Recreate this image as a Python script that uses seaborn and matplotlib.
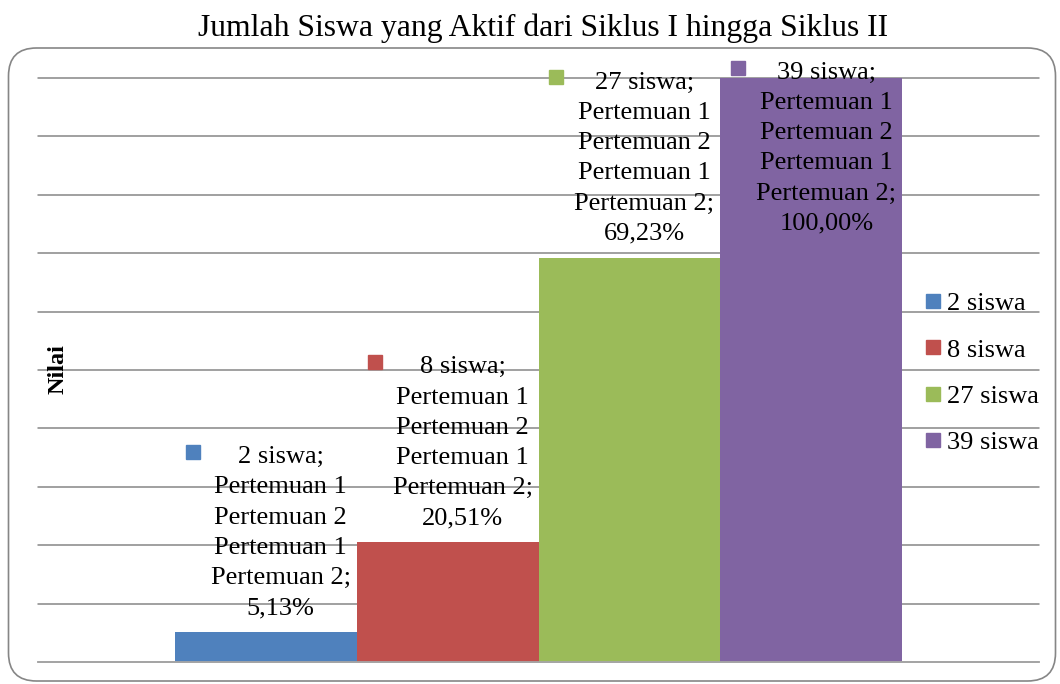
import numpy as np
import pandas as pd
import matplotlib
matplotlib.use("Agg")
import matplotlib.pyplot as plt
from matplotlib.patches import FancyBboxPatch, Rectangle
from matplotlib.lines import Line2D
from matplotlib.transforms import IdentityTransform
import seaborn as sns

# data dari grafik
judul = "Jumlah Siswa yang Aktif dari Siklus I hingga Siklus II"
kategori = ["Siklus"]
seri = ["2 siswa", "8 siswa", "27 siswa", "39 siswa"]
jumlah_siswa = [2, 8, 27, 39]
persen = [5.13, 20.51, 69.23, 100.00]
keterangan = ["Pertemuan 1", "Pertemuan 2", "Pertemuan 1", "Pertemuan 2;"]
label_y = "Nilai"
warna = ["#4F81BD", "#C0504D", "#9BBB59", "#8064A2"]

W, H = 1060, 684
GRID = "#868686"

sns.set_theme(style="white")
plt.rcParams["font.family"] = ["Liberation Serif", "DejaVu Serif"]
plt.rcParams["text.color"] = "black"

df = pd.DataFrame({
    "kategori": kategori * len(seri),
    "seri": seri,
    "persen": persen,
})

fig = plt.figure(figsize=(W / 100, H / 100), dpi=100)
ax = fig.add_axes([38 / W, (H - 662) / H, 1001 / W, (662 - 78) / H])

sns.barplot(data=df, x="kategori", y="persen", hue="seri", hue_order=seri,
            palette=warna, saturation=1, width=0.727, gap=0, dodge=True,
            legend=False, linewidth=0, ax=ax)

ax.set_xlim(-0.5, 0.5)
ax.set_ylim(0, 100)
ax.set_yticks(np.arange(0, 101, 10))
ax.yaxis.grid(True, color=GRID, linewidth=1.1)
ax.xaxis.grid(False)
ax.set_axisbelow(True)
ax.tick_params(left=False, bottom=False, labelleft=False, labelbottom=False)
ax.set_xlabel("")
ax.set_ylabel("")
for s in ["left", "top", "right"]:
    ax.spines[s].set_visible(False)
ax.spines["bottom"].set_color("#A6A6A6")
ax.spines["bottom"].set_linewidth(1.3)
for g in ax.get_ygridlines():
    g.set_clip_on(False)

# judul dan label sumbu
fig.text(543 / W, 1 - 28 / H, judul, ha="center", va="center", fontsize=22.8)
fig.text(58 / W, 1 - 369 / H, label_y, rotation=90, ha="center", va="center",
         fontsize=17.5, fontweight="bold")

# legenda
handles = [Line2D([], [], marker="s", linestyle="none", markersize=10,
                  markerfacecolor=c, markeredgecolor=c) for c in warna]
fig.legend(handles, seri, loc="center left", bbox_to_anchor=(925 / W, 1 - 373 / H),
           frameon=False, fontsize=19, handlelength=0.6, handletextpad=0.25,
           labelspacing=0.86, borderpad=0, borderaxespad=0)

# label data
fig.canvas.draw()
renderer = fig.canvas.get_renderer()
batas_atas = H - 62
for cont, n, p, c in zip(ax.containers, jumlah_siswa, persen, warna):
    bar = cont[0]
    cx = bar.get_x() + bar.get_width() / 2
    teks = f"{n} siswa;\n" + "\n".join(keterangan) + "\n" + f"{p:.2f}%".replace(".", ",")
    t = ax.annotate(teks, xy=(cx, bar.get_height()), xytext=(15, 13),
                    textcoords="offset pixels", ha="center", va="bottom",
                    fontsize=19, linespacing=1.48, annotation_clip=False)
    bb = t.get_window_extent(renderer)
    top = bb.y1
    if top > batas_atas:
        t.xyann = (15, 13 - (top - batas_atas))
        top = batas_atas
    x_disp = ax.transData.transform((cx, 0))[0]
    fig.add_artist(Rectangle((x_disp - 80, top - 12.5), 14, 14, color=c,
                             transform=IdentityTransform()))

# bingkai membulat
fig.add_artist(FancyBboxPatch((8.5, H - 681), 1047, 633,
                              boxstyle="round,pad=0,rounding_size=28",
                              fill=False, edgecolor=GRID, linewidth=1.2,
                              transform=IdentityTransform()))

fig.savefig("out.png", dpi=100)
